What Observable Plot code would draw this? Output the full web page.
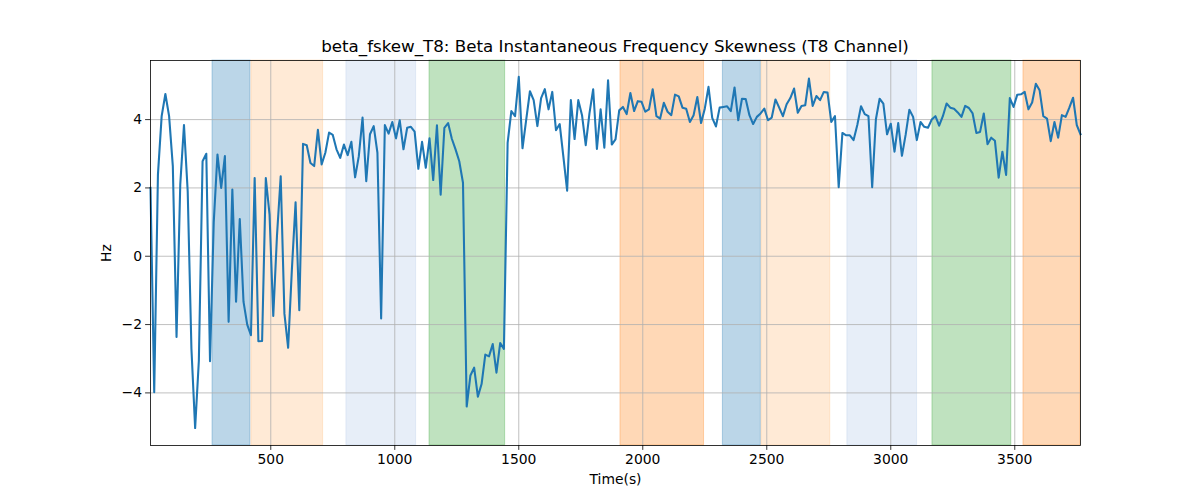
<!DOCTYPE html>
<html>
<head>
<meta charset="utf-8">
<script src="https://cdn.jsdelivr.net/npm/d3@7"></script>
<script src="https://cdn.jsdelivr.net/npm/@observablehq/plot@0.6"></script>
<style>
  html, body { margin: 0; padding: 0; background: #fff; }
  #fig { width: 1200px; height: 500px; font-family: "DejaVu Sans", sans-serif; }
  #title { height: 20px; padding-top: 36px; margin-left: 150px; width: 930px; text-align: center;
           font-size: 16.7px; line-height: 20px; color: #000; white-space: nowrap; }
</style>
</head>
<body>
<div id="fig">
  <div id="title">beta_fskew_T8: Beta Instantaneous Frequency Skewness (T8 Channel)</div>
  <div id="chart"></div>
</div>
<script>
// Sampling grid (seconds): first sample, hop, last sample
const tStart = 15, tStep = 15, tEnd = 3765;

// Skewness values (Hz), one per sample
const skew = [
  2.0, -3.98, 2.39, 4.1, 4.75, 4.1, 2.64, -2.36, 2.1, 3.84,
  1.9, -2.7, -5.03, -3.05, 2.78, 3.0, -3.07, 1.0, 2.98, 2.0,
  2.93, -1.92, 1.95, -1.33, 1.09, -1.33, -2.0, -2.31, 2.29, -2.49,
  -2.48, 2.29, 1.22, -1.75, 0.6, 2.34, -1.68, -2.68, -0.4, 1.58,
  -1.58, 3.29, 3.25, 2.73, 2.64, 3.7, 2.69, 3.03, 3.62, 3.55,
  3.13, 2.88, 3.27, 2.96, 3.35, 2.31, 2.93, 4.06, 2.2, 3.57,
  3.81, 3.03, -1.82, 3.84, 3.59, 3.93, 3.45, 3.98, 3.13, 3.76,
  3.79, 3.65, 2.56, 3.35, 2.59, 3.45, 2.23, 3.83, 1.8, 3.76,
  3.9, 3.44, 3.13, 2.78, 2.15, -4.4, -3.49, -3.26, -4.11, -3.74,
  -2.88, -2.93, -2.57, -3.41, -2.54, -2.71, 3.32, 4.25, 4.1, 5.25,
  3.16, 4.0, 4.83, 4.57, 3.81, 4.63, 4.89, 4.3, 4.81, 3.69,
  3.87, 2.9, 1.92, 4.57, 3.43, 4.57, 4.13, 3.25, 4.18, 4.89,
  3.14, 4.3, 3.18, 5.15, 3.27, 3.42, 4.27, 4.37, 4.16, 4.78,
  4.25, 4.54, 4.52, 4.23, 4.3, 4.89, 4.1, 4.03, 4.49, 4.23,
  4.13, 4.73, 4.68, 4.35, 4.32, 3.93, 4.13, 4.66, 3.9, 4.32,
  4.96, 4.05, 3.8, 4.35, 4.37, 4.39, 4.25, 4.94, 3.98, 4.61,
  4.6, 4.13, 3.87, 4.08, 4.18, 4.32, 3.98, 4.06, 4.59, 4.35,
  4.1, 4.45, 4.63, 4.91, 4.2, 4.4, 4.42, 5.2, 4.4, 4.69,
  4.57, 4.81, 4.79, 3.93, 4.1, 2.02, 3.61, 3.54, 3.54, 3.4,
  3.84, 4.39, 4.16, 4.1, 2.02, 4.01, 4.61, 4.47, 3.57, 3.88,
  3.06, 3.9, 2.94, 3.56, 4.29, 4.08, 3.4, 3.93, 3.79, 3.76,
  4.0, 4.1, 3.82, 4.1, 4.47, 4.35, 4.32, 4.21, 4.08, 4.4,
  4.34, 4.18, 3.61, 3.64, 4.18, 3.28, 3.47, 3.38, 2.3, 3.06,
  2.38, 4.63, 4.37, 4.73, 4.74, 4.81, 4.3, 4.5, 5.05, 4.86,
  4.1, 4.03, 3.37, 3.93, 3.47, 4.13, 4.08, 4.35, 4.64, 3.84,
  3.57
];

// Shaded intervals (seconds) and their category
const spanStart = [265, 422, 805, 1140, 1910, 2323, 2479, 2825, 3168, 3535];
const spanEnd   = [418, 711, 1086, 1445, 2247, 2476, 2756, 3106, 3486, 3765];
const spanKind  = ["s1", "s2", "s3", "s4", "s5", "s1", "s2", "s3", "s4", "s5"];
const spanKinds = ["s1", "s2", "s3", "s4", "s5"];
const spanColors = ["#1f77b4", "#ffbb78", "#aec7e8", "#2ca02c", "#ff7f0e"];

// Tick labels
const xTicks = [500, 1000, 1500, 2000, 2500, 3000, 3500];
const yTicks = [-4, -2, 0, 2, 4];

const times = d3.range(tStart, tEnd + 1, tStep);
const series = skew.map((v, i) => ({t: times[i], v}));
const spans = spanStart.map((s, i) => ({x1: s, x2: spanEnd[i], kind: spanKind[i]}));

const chart = Plot.plot({
  width: 1200,
  height: 444,
  marginTop: 4,
  marginBottom: 55,
  marginLeft: 150,
  marginRight: 120,
  style: {fontFamily: "DejaVu Sans, sans-serif", fontSize: "13.9px", color: "#000", background: "#fff"},
  x: {domain: [tStart, tEnd], ticks: xTicks},
  y: {domain: [-5.54, 5.73], ticks: yTicks},
  color: {type: "ordinal", domain: spanKinds, range: spanColors},
  marks: [
    Plot.rect(spans, {x1: "x1", x2: "x2", fill: "kind", fillOpacity: 0.3, stroke: "kind", strokeOpacity: 0.3, strokeWidth: 1}),
    Plot.gridX(xTicks, {stroke: "#b0b0b0", strokeOpacity: 1, strokeWidth: 0.8}),
    Plot.gridY(yTicks, {stroke: "#b0b0b0", strokeOpacity: 1, strokeWidth: 0.8}),
    Plot.line(series, {x: "t", y: "v", stroke: "#1f77b4", strokeWidth: 2.08, strokeLinejoin: "round", strokeLinecap: "square"}),
    Plot.axisX(xTicks, {tickSize: 4.9, tickPadding: 3.5, fontSize: 13.9, tickFormat: d => String(d), label: "Time(s)", labelAnchor: "center", labelArrow: "none", labelOffset: 38, strokeWidth: 0.8}),
    Plot.axisY(yTicks, {tickSize: 4.9, tickPadding: 3.5, fontSize: 13.9, tickFormat: d => (d < 0 ? "\u2212" + Math.abs(d) : String(d)), label: "Hz", labelAnchor: "center", labelArrow: "none", labelOffset: 49, strokeWidth: 0.8}),
    Plot.frame({stroke: "#000", strokeWidth: 0.8})
  ]
});
document.getElementById("chart").appendChild(chart);
</script>
</body>
</html>
